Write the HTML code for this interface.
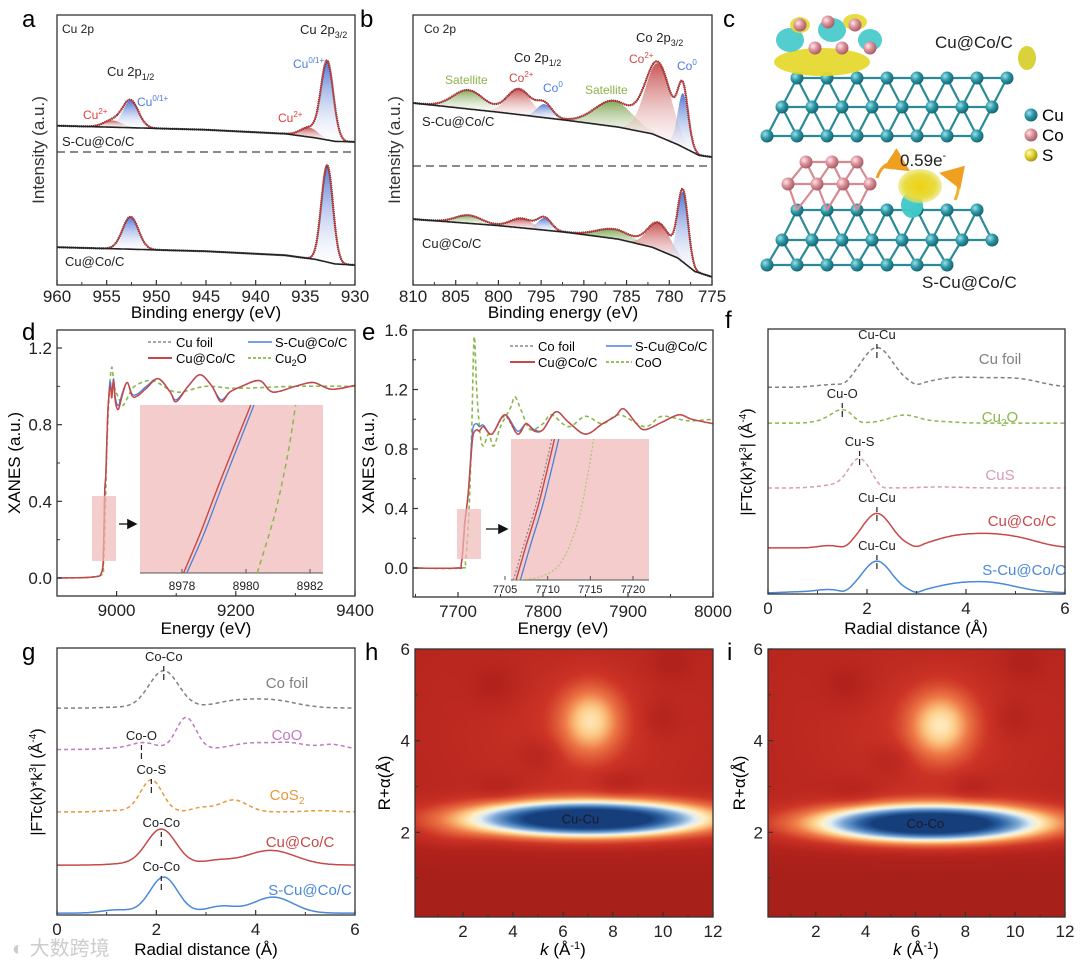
<!DOCTYPE html>
<html><head><meta charset="utf-8"><style>
html,body{margin:0;padding:0;background:#fff;}
#wrap{position:relative;width:1080px;height:967px;overflow:hidden;font-family:"Liberation Sans","Noto Sans CJK SC",sans-serif;}
svg{position:absolute;left:0;top:0;}
canvas{position:absolute;}
text{font-family:"Liberation Sans","Noto Sans CJK SC",sans-serif;}
</style></head><body>
<div id="wrap">
<canvas id="hmH" width="298" height="268" style="left:415px;top:649px"></canvas>
<canvas id="hmI" width="297" height="268" style="left:768px;top:649px"></canvas>
<svg id="svg" width="1080" height="967" viewBox="0 0 1080 967">
<defs>
<linearGradient id="gBlue" x1="0" y1="0" x2="0" y2="1"><stop offset="0" stop-color="#3560cc"/><stop offset="1" stop-color="#ffffff" stop-opacity="0.3"/></linearGradient>
<linearGradient id="gRed" x1="0" y1="0" x2="0" y2="1"><stop offset="0" stop-color="#c03838"/><stop offset="1" stop-color="#ffffff" stop-opacity="0.3"/></linearGradient>
<linearGradient id="gGreen" x1="0" y1="0" x2="0" y2="1"><stop offset="0" stop-color="#6f9a3c"/><stop offset="1" stop-color="#ffffff" stop-opacity="0.3"/></linearGradient>
<radialGradient id="atomCu" cx="0.35" cy="0.35" r="0.7"><stop offset="0" stop-color="#9fe0e8"/><stop offset="0.5" stop-color="#2a97a6"/><stop offset="1" stop-color="#17606c"/></radialGradient>
<radialGradient id="atomCo" cx="0.35" cy="0.35" r="0.7"><stop offset="0" stop-color="#ffe6ea"/><stop offset="0.5" stop-color="#d98c96"/><stop offset="1" stop-color="#a05a62"/></radialGradient>
<radialGradient id="atomS" cx="0.35" cy="0.35" r="0.7"><stop offset="0" stop-color="#fffbb0"/><stop offset="0.5" stop-color="#e0d030"/><stop offset="1" stop-color="#a09010"/></radialGradient>
<radialGradient id="blobY" cx="0.5" cy="0.5" r="0.5"><stop offset="0" stop-color="#f0d010"/><stop offset="0.7" stop-color="#e8dc40"/><stop offset="1" stop-color="#e8e060" stop-opacity="0.6"/></radialGradient>
<marker id="arrowHead" markerWidth="8" markerHeight="8" refX="6" refY="4" orient="auto"><path d="M0,0 L8,4 L0,8 z" fill="#111"/></marker>
<marker id="arrowOr" markerWidth="8" markerHeight="8" refX="6" refY="4" orient="auto"><path d="M0,0 L8,4 L0,8 z" fill="#f0a020"/></marker>
</defs>

<!-- panel letters -->
<text x="22" y="27" font-size="24">a</text>
<text x="360" y="27" font-size="24">b</text>
<text x="723" y="27" font-size="24">c</text>
<text x="22" y="340" font-size="24">d</text>
<text x="362" y="340" font-size="24">e</text>
<text x="725" y="328" font-size="24">f</text>
<text x="22" y="660" font-size="24">g</text>
<text x="365" y="660" font-size="24">h</text>
<text x="727" y="660" font-size="24">i</text>

<!-- axis titles -->
<text x="206" y="318" font-size="17" text-anchor="middle">Binding energy (eV)</text>
<text x="563" y="318" font-size="17" text-anchor="middle">Binding energy (eV)</text>
<text x="206" y="634" font-size="17" text-anchor="middle">Energy (eV)</text>
<text x="563" y="634" font-size="17" text-anchor="middle">Energy (eV)</text>
<text x="916" y="634" font-size="17" text-anchor="middle">Radial distance (Å)</text>
<text x="206" y="955" font-size="17" text-anchor="middle">Radial distance (Å)</text>
<text x="563" y="955" font-size="17" text-anchor="middle"><tspan font-style="italic">k</tspan> (Å<tspan dy="-6" font-size="11">-1</tspan><tspan dy="6">)</tspan></text>
<text x="916" y="955" font-size="17" text-anchor="middle"><tspan font-style="italic">k</tspan> (Å<tspan dy="-6" font-size="11">-1</tspan><tspan dy="6">)</tspan></text>

<text transform="translate(44,150) rotate(-90)" font-size="17" text-anchor="middle" fill="#333">Intensity (a.u.)</text>
<text transform="translate(400,150) rotate(-90)" font-size="17" text-anchor="middle" fill="#333">Intensity (a.u.)</text>
<text transform="translate(20,463) rotate(-90)" font-size="17" text-anchor="middle">XANES (a.u.)</text>
<text transform="translate(374,463) rotate(-90)" font-size="17" text-anchor="middle">XANES (a.u.)</text>
<text transform="translate(752,462) rotate(-90)" font-size="16" text-anchor="middle">|FTc(k)*k<tspan dy="-6" font-size="10">3</tspan><tspan dy="6">| (Å</tspan><tspan dy="-6" font-size="10">-4</tspan><tspan dy="6">)</tspan></text>
<text transform="translate(42,782) rotate(-90)" font-size="16" text-anchor="middle">|FTc(k)*k<tspan dy="-6" font-size="10">3</tspan><tspan dy="6">| (Å</tspan><tspan dy="-6" font-size="10">-4</tspan><tspan dy="6">)</tspan></text>
<text transform="translate(390,783) rotate(-90)" font-size="17" text-anchor="middle">R+α(Å)</text>
<text transform="translate(745,783) rotate(-90)" font-size="17" text-anchor="middle">R+α(Å)</text>

<!-- panel a annotations -->
<g font-size="12">
<text x="62" y="33" fill="#222">Cu 2p</text>
<text x="107" y="76" font-size="13" fill="#222">Cu 2p<tspan dy="4" font-size="9">1/2</tspan></text>
<text x="300" y="34" font-size="13" fill="#222">Cu 2p<tspan dy="4" font-size="9">3/2</tspan></text>
<text x="83" y="119" fill="#e04040">Cu<tspan dy="-5" font-size="8">2+</tspan></text>
<text x="137" y="106" fill="#4a7ae0">Cu<tspan dy="-5" font-size="8">0/1+</tspan></text>
<text x="278" y="122" fill="#e04040">Cu<tspan dy="-5" font-size="8">2+</tspan></text>
<text x="293" y="68" fill="#4a7ae0">Cu<tspan dy="-5" font-size="8">0/1+</tspan></text>
<text x="62" y="146" font-size="13" fill="#222">S-Cu@Co/C</text>
<text x="65" y="266" font-size="13" fill="#222">Cu@Co/C</text>
</g>
<!-- panel b annotations -->
<g font-size="12">
<text x="424" y="33" fill="#222">Co 2p</text>
<text x="514" y="62" font-size="13" fill="#222">Co 2p<tspan dy="4" font-size="9">1/2</tspan></text>
<text x="636" y="42" font-size="13" fill="#222">Co 2p<tspan dy="4" font-size="9">3/2</tspan></text>
<text x="445" y="84" fill="#8db34a">Satellite</text>
<text x="509" y="82" fill="#d04848">Co<tspan dy="-5" font-size="8">2+</tspan></text>
<text x="543" y="92" fill="#4a7ae0">Co<tspan dy="-5" font-size="8">0</tspan></text>
<text x="585" y="94" fill="#8db34a">Satellite</text>
<text x="629" y="63" fill="#d04848">Co<tspan dy="-5" font-size="8">2+</tspan></text>
<text x="677" y="70" fill="#4a7ae0">Co<tspan dy="-5" font-size="8">0</tspan></text>
<text x="422" y="126" font-size="13" fill="#222">S-Cu@Co/C</text>
<text x="422" y="248" font-size="13" fill="#222">Cu@Co/C</text>
</g>

<!-- panel c (structure) -->
<g id="panelC"></g>
<g>
<text x="935" y="48" font-size="17" fill="#222">Cu@Co/C</text>
<text x="900" y="166" font-size="17" fill="#222">0.59e<tspan dy="-7" font-size="11">-</tspan></text>
<text x="922" y="288" font-size="17" fill="#222">S-Cu@Co/C</text>
<circle cx="1031" cy="115" r="6.5" fill="url(#atomCu)"/>
<circle cx="1031" cy="135" r="6.5" fill="url(#atomCo)"/>
<circle cx="1031" cy="155" r="6.5" fill="url(#atomS)"/>
<text x="1042" y="121" font-size="17">Cu</text>
<text x="1042" y="141" font-size="17">Co</text>
<text x="1042" y="161" font-size="17">S</text>
</g>

<!-- legends d and e -->
<g font-size="13">
<line x1="148" y1="342" x2="172" y2="342" stroke="#888" stroke-dasharray="3,2" stroke-width="1.5"/>
<text x="176" y="347">Cu foil</text>
<line x1="248" y1="342" x2="272" y2="342" stroke="#4a80d8" stroke-width="1.5"/>
<text x="275" y="347">S-Cu@Co/C</text>
<line x1="148" y1="358" x2="172" y2="358" stroke="#c84848" stroke-width="2"/>
<text x="176" y="363">Cu@Co/C</text>
<line x1="248" y1="358" x2="272" y2="358" stroke="#8ab84a" stroke-dasharray="3,2" stroke-width="1.8"/>
<text x="275" y="363">Cu<tspan dy="3" font-size="9">2</tspan><tspan dy="-3">O</tspan></text>
</g>
<g font-size="13">
<line x1="510" y1="346" x2="535" y2="346" stroke="#888" stroke-dasharray="3,2" stroke-width="1.5"/>
<text x="538" y="351">Co foil</text>
<line x1="606" y1="346" x2="632" y2="346" stroke="#4a80d8" stroke-width="1.5"/>
<text x="635" y="351">S-Cu@Co/C</text>
<line x1="510" y1="362" x2="535" y2="362" stroke="#c84848" stroke-width="2"/>
<text x="538" y="367">Cu@Co/C</text>
<line x1="606" y1="362" x2="632" y2="362" stroke="#8ab84a" stroke-dasharray="3,2" stroke-width="1.8"/>
<text x="635" y="367">CoO</text>
</g>

<text x="12" y="955" font-size="20" fill="#ccc">◐ 大数跨境</text>
</svg>
</div>
<script>
// ---------- DATA ----------
// panel a (Cu 2p XPS)
const aTicks=[960,955,950,945,940,935,930];
const aTopBase=[[960,59],[945,57.5],[937,56],[934,54.5],[932,53.2],[930,53]];
const aTopPeakCenters=[952.6,954.4,932.8,934.6];
const aTopPeakHeights=[10,2.5,29,3.5];
const aTopPeakWidths=[0.8,0.9,0.62,0.9];
const aTopPeakTypes=['blue','red','blue','red'];
const aBotBase=[[960,14],[945,12.5],[937,11],[934,9.5],[932,7.8],[930,7.4]];
const aBotPeakCenters=[952.6,932.8];
const aBotPeakHeights=[12,36];
const aBotPeakWidths=[0.8,0.58];
const aBotPeakTypes=['blue','blue'];
// panel b (Co 2p XPS)
const bTicks=[810,805,800,795,790,785,780,775];
const bTopBase=[[810,67.4],[800,64],[792,61],[786,58.5],[782,56],[779,52],[776.5,48],[775,47.4]];
const bTopPeakCenters=[803.5,797.6,794.6,786.5,781.3,778.4];
const bTopPeakHeights=[7,9.5,5,9.5,27,20];
const bTopPeakWidths=[1.8,1.4,0.9,2.2,1.5,0.6];
const bTopPeakTypes=['green','red','blue','green','red','blue'];
const bBotBase=[[810,24.4],[800,22],[792,19.5],[786,17],[782,14],[779,10],[777,5],[775,3]];
const bBotPeakCenters=[803.5,797.3,794.6,786.5,781.2,778.4];
const bBotPeakHeights=[3,3.5,4.5,3.5,10,26];
const bBotPeakWidths=[1.5,1.3,0.8,2,1.3,0.6];
const bBotPeakTypes=['green','red','blue','green','red','blue'];
// panel d (Cu K-edge XANES)
const dXTicks=[9000,9200,9400];
const dYTicks=[0.0,0.4,0.8,1.2];
const dCuCoC=[[8900,0],[8960,0.005],[8975,0.03],[8978,0.15],[8980,0.45],[8982,0.55],[8985,0.85],[8988,0.98],[8990,1.0],[8992,0.94],[8995,1.03],[8998,0.92],[9003,0.88],[9010,0.96],[9018,1.02],[9026,0.95],[9035,0.95],[9050,0.99],[9070,1.04],[9090,0.97],[9100,0.92],[9120,1.0],[9140,1.06],[9160,1.0],[9175,0.92],[9190,0.97],[9210,1.0],[9240,1.03],[9262,0.97],[9300,1.0],[9330,1.02],[9360,0.985],[9400,1.005]];
const dSCuCoC=[[8900,0],[8960,0.005],[8975,0.03],[8978,0.14],[8980,0.43],[8982,0.55],[8985,0.85],[8988,1.0],[8990,1.02],[8992,0.96],[8995,1.04],[8998,0.94],[9003,0.9],[9010,0.97],[9018,1.02],[9026,0.96],[9035,0.96],[9050,1.0],[9070,1.04],[9090,0.97],[9100,0.93],[9120,1.0],[9140,1.06],[9160,1.0],[9175,0.93],[9190,0.97],[9210,1.0],[9240,1.03],[9262,0.97],[9300,1.0],[9330,1.02],[9360,0.985],[9400,1.005]];
const dCuFoil=[[8900,0],[8960,0.005],[8975,0.03],[8978,0.15],[8980,0.45],[8982,0.55],[8985,0.86],[8988,0.98],[8990,1.0],[8992,0.95],[8995,1.02],[8998,0.92],[9003,0.88],[9010,0.96],[9018,1.02],[9026,0.95],[9035,0.95],[9050,0.99],[9070,1.04],[9090,0.97],[9100,0.92],[9120,1.0],[9140,1.06],[9160,1.0],[9175,0.92],[9190,0.97],[9210,1.0],[9240,1.03],[9262,0.97],[9300,1.0],[9330,1.02],[9360,0.985],[9400,1.005]];
const dCu2O=[[8900,0],[8970,0.01],[8978,0.08],[8981,0.35],[8984,0.72],[8988,0.98],[8992,1.1],[8996,1.0],[9002,0.95],[9010,0.9],[9020,0.95],[9030,1.0],[9060,1.03],[9100,0.97],[9150,1.0],[9200,0.99],[9300,1.0],[9400,1.0]];
const dInsetTicks=[8978,8980,8982];
const dInsetCu=[[8978.05,0],[8978.6,0.25],[8979.2,0.55],[8980.15,1.0]];
const dInsetSCu=[[8978.15,0],[8978.7,0.24],[8979.3,0.54],[8980.25,1.0]];
const dInsetCu2O=[[8980.35,0],[8980.9,0.35],[8981.3,0.7],[8981.55,1.0]];
// panel e (Co K-edge XANES)
const eXTicks=[7700,7800,7900,8000];
const eYTicks=[0.0,0.4,0.8,1.2,1.6];
const eCuCoC=[[7647,0],[7698,0.0],[7704,0.03],[7708,0.3],[7712,0.5],[7716,0.8],[7718,0.9],[7722,0.93],[7725,0.92],[7730,0.95],[7740,0.9],[7755,1.03],[7770,0.9],[7780,0.97],[7790,0.92],[7800,0.93],[7815,1.05],[7830,0.98],[7850,0.9],[7870,0.97],[7885,1.02],[7895,1.07],[7910,0.97],[7920,0.93],[7940,0.98],[7960,1.03],[7975,1.0],[8000,0.97]];
const eSCuCoC=[[7647,0],[7698,0.0],[7704,0.03],[7708,0.3],[7712,0.5],[7716,0.85],[7718,0.95],[7722,0.97],[7725,0.95],[7730,0.96],[7740,0.9],[7755,1.03],[7770,0.92],[7780,0.97],[7790,0.93],[7800,0.93],[7815,1.05],[7830,0.98],[7850,0.9],[7870,0.97],[7885,1.02],[7895,1.07],[7910,0.97],[7920,0.93],[7940,0.98],[7960,1.03],[7975,1.0],[8000,0.97]];
const eCoFoil=[[7647,0],[7698,0.0],[7704,0.03],[7708,0.32],[7712,0.5],[7716,0.8],[7718,0.9],[7722,0.93],[7725,0.92],[7730,0.95],[7740,0.9],[7755,1.02],[7770,0.9],[7780,0.97],[7790,0.92],[7800,0.93],[7815,1.05],[7830,0.98],[7850,0.9],[7870,0.97],[7885,1.02],[7895,1.07],[7910,0.97],[7920,0.93],[7940,0.98],[7960,1.03],[7975,1.0],[8000,0.97]];
const eCoO=[[7647,0],[7704,0.0],[7709,0.05],[7713,0.4],[7716,0.9],[7719,1.55],[7722,1.2],[7726,0.9],[7730,0.82],[7736,0.9],[7742,0.82],[7750,0.95],[7762,1.08],[7767,1.15],[7775,1.05],[7785,0.93],[7800,0.97],[7810,1.03],[7830,0.95],[7850,1.02],[7870,0.97],[7890,1.03],[7920,0.95],[7940,1.02],[7970,0.99],[8000,1.0]];
const eInsetTicks=[7705,7710,7715,7720];
const eInsetCu=[[7706.3,0],[7707.5,0.25],[7709,0.55],[7710.8,1.0]];
const eInsetSCu=[[7706.8,0],[7708,0.25],[7709.5,0.55],[7711.3,1.0]];
const eInsetCoFoil=[[7706.0,0],[7707.2,0.25],[7708.7,0.55],[7710.5,1.0]];
const eInsetCoO=[[7706,0],[7709,0.02],[7711.5,0.12],[7713.5,0.4],[7714.7,0.75],[7715.4,1.0]];
// panel f (Cu EXAFS FT)
const fTicks=[0,2,4,6];
const fNames=['Cu foil','Cu2O','CuS','Cu@Co/C','S-Cu@Co/C'];
const fBaselines=[78,64.5,40,17.4,0.4];
const fPeaks=[
 [[2.2,15,0.33],[1.2,0.8,0.3],[3.6,2.5,0.45],[4.5,3,0.6],[5.2,1.5,0.4]],
 [[1.5,5,0.22],[2.75,3,0.3],[1.1,0.6,0.2],[3.5,0.5,0.3]],
 [[1.85,11,0.22],[1.3,1,0.3],[3.5,0.4,0.4]],
 [[2.2,13,0.3],[1.2,0.8,0.2],[3.6,2,0.4],[4.4,5,0.6],[5.2,1.5,0.4]],
 [[2.2,12,0.3],[1.2,1.2,0.25],[3.6,1.5,0.4],[4.4,4,0.6],[0.6,0.4,0.3]]];
const fDips=[[1.55,3.0],[1.85],[2.3],[1.55,3.0],[1.55,3.0]];
// panel g (Co EXAFS FT)
const gTicks=[0,2,4,6];
const gNames=['Co foil','CoO','CoS2','Cu@Co/C','S-Cu@Co/C'];
const gBaselines=[77.5,62,38.6,18.7,0.7];
const gPeaks=[
 [[2.15,14,0.3],[3.5,2,0.4],[4.3,3,0.5],[1.2,0.3,0.3]],
 [[2.6,12,0.2],[1.75,2.5,0.25],[3.9,2.3,0.4],[4.7,2.3,0.35],[5.55,1.8,0.25],[1.2,0.5,0.3]],
 [[1.9,12,0.22],[2.9,1.5,0.2],[3.55,4.5,0.28],[5.3,0.5,0.3],[1.2,0.5,0.3]],
 [[2.1,13.5,0.3],[3.2,1.5,0.3],[4.3,5.5,0.5],[1.3,0.4,0.3]],
 [[2.15,13.5,0.28],[3.3,2.5,0.3],[4.35,6,0.4],[1.2,1.2,0.3]]];
// panels h, i (wavelet transform)
const hmKTicks=[2,4,6,8,10,12];
const hmRTicks=[2,4,6];
const hCenterK=[7.0,7.1,6.5,3.3,5.0,8.2,9.9,3.5,10.3,1.5];
const hCenterR=[2.3,4.45,4.2,5.2,3.7,3.1,4.5,3.0,5.7,1.9];
const hAmp=[1.0,0.3,0.08,-0.06,-0.06,-0.06,-0.06,-0.05,-0.05,0.04];
const hWidthK=[3.4,0.9,3.5,0.7,0.6,0.6,0.5,0.7,0.6,1.0];
const hWidthR=[0.27,0.55,1.3,0.35,0.25,0.2,0.3,0.2,0.3,0.2];
const iCenterK=[6.6,7.0,6.5,3.3,5.0,8.2,9.9,3.5,10.3];
const iCenterR=[2.2,4.35,4.2,5.2,3.6,3.0,4.5,2.9,5.7];
const iAmp=[1.0,0.31,0.08,-0.06,-0.06,-0.06,-0.06,-0.05,-0.05];
const iWidthK=[3.2,0.95,3.5,0.7,0.6,0.6,0.5,0.7,0.6];
const iWidthR=[0.28,0.55,1.3,0.35,0.25,0.2,0.3,0.2,0.3];

// ---------- HELPERS ----------
const NS='http://www.w3.org/2000/svg';
const svg=document.getElementById('svg');
function mk(tag,attrs,parent){const e=document.createElementNS(NS,tag);for(const k in attrs)e.setAttribute(k,attrs[k]);(parent||svg).appendChild(e);return e;}
function lin(d0,d1,p0,p1){return v=>p0+(v-d0)*(p1-p0)/(d1-d0);}
function interp(pts,x){
  for(let i=0;i<pts.length-1;i++){const a=pts[i],b=pts[i+1];
    if((x-a[0])*(x-b[0])<=0){const t=(x-a[0])/(b[0]-a[0]);return a[1]+t*(b[1]-a[1]);}}
  return pts[pts.length-1][1];}
function smoothPath(P){
  if(P.length<2)return'';let d='M'+P[0][0].toFixed(1)+','+P[0][1].toFixed(1);
  for(let i=0;i<P.length-1;i++){const p0=P[Math.max(0,i-1)],p1=P[i],p2=P[i+1],p3=P[Math.min(P.length-1,i+2)];
    const c1=[p1[0]+(p2[0]-p0[0])/6,p1[1]+(p2[1]-p0[1])/6],c2=[p2[0]-(p3[0]-p1[0])/6,p2[1]-(p3[1]-p1[1])/6];
    d+='C'+c1[0].toFixed(1)+','+c1[1].toFixed(1)+' '+c2[0].toFixed(1)+','+c2[1].toFixed(1)+' '+p2[0].toFixed(1)+','+p2[1].toFixed(1);}
  return d;}
function polyPath(P){return 'M'+P.map(p=>p[0].toFixed(1)+','+p[1].toFixed(1)).join('L');}
function gauss(x,c,h,w){return h*Math.exp(-(x-c)*(x-c)/(2*w*w));}
function frame(box,name){const r=mk('rect',{x:box.l,y:box.t,width:box.r-box.l,height:box.b-box.t,fill:'none',stroke:'#333','stroke-width':1.3});
  
  }
function xTicks(box,vals,sx,name,minor,off){
  off=off||20;
  const g=mk('g',{});
  
  
  vals.forEach(v=>{const x=sx(v);mk('line',{x1:x,y1:box.b,x2:x,y2:box.b-5,stroke:'#333','stroke-width':1.2},g);
    const t=mk('text',{x:x,y:box.b+off,'font-size':17,'text-anchor':'middle',fill:'#222'},g);t.textContent=String(v);
    
    });
  if(minor)minor.forEach(v=>{const x=sx(v);mk('line',{x1:x,y1:box.b,x2:x,y2:box.b-3,stroke:'#333','stroke-width':1},g);});}
function yTicks(box,vals,sy,name,fmt,minor){
  const g=mk('g',{});
  
  
  vals.forEach(v=>{const y=sy(v);mk('line',{x1:box.l,y1:y,x2:box.l+5,y2:y,stroke:'#333','stroke-width':1.2},g);
    const t=mk('text',{x:box.l-5,y:y+6,'font-size':17,'text-anchor':'end',fill:'#222'},g);t.textContent=fmt(v);
    
    });
  if(minor)minor.forEach(v=>{const y=sy(v);mk('line',{x1:box.l,y1:y,x2:box.l+3,y2:y,stroke:'#333','stroke-width':1},g);});}

// ---------- XPS ----------
const fillFor={blue:'url(#gBlue)',red:'url(#gRed)',green:'url(#gGreen)'};
function xps(box,e0,e1,base,cs,hs,ws,types,name,step){
  const sx=lin(e0,e1,box.l,box.r),sy=lin(0,100,box.b,box.t);
  const g=mk('g',{});
  
  
  const Es=[];for(let E=e0;E>=e1-1e-9;E-=step)Es.push(E);
  cs.forEach((c,i)=>{const top=[],bot=[];
    Es.forEach(E=>{const v=gauss(E,c,hs[i],ws[i]);if(v>hs[i]*0.01){const b=interp(base,E);top.push([sx(E),sy(b+v)]);bot.push([sx(E),sy(b)]);}});
    const p=mk('path',{d:polyPath(top.concat(bot.reverse()))+'Z',fill:fillFor[types[i]],opacity:0.85},g);
    
    });
  const tot=Es.map(E=>{let v=interp(base,E);cs.forEach((c,i)=>v+=gauss(E,c,hs[i],ws[i]));return [sx(E),sy(v)];});
  const raw=mk('path',{d:polyPath(tot),fill:'none',stroke:'#333','stroke-width':2.2,'stroke-dasharray':'1.2,0.8'},g);
  
  
  const fit=mk('path',{d:polyPath(tot),fill:'none',stroke:'#e03030','stroke-width':1.1},g);
  
  
  const bl=mk('path',{d:polyPath(Es.map(E=>[sx(E),sy(interp(base,E))])),fill:'none',stroke:'#222','stroke-width':1.6},g);
  
  }

const boxA={l:57,t:15,r:355,b:285};
xps(boxA,960,930,aTopBase,aTopPeakCenters,aTopPeakHeights,aTopPeakWidths,aTopPeakTypes,'xps-a-s-cu',0.1);
xps(boxA,960,930,aBotBase,aBotPeakCenters,aBotPeakHeights,aBotPeakWidths,aBotPeakTypes,'xps-a-cu',0.1);
{const l=mk('line',{x1:57,y1:152,x2:355,y2:152,stroke:'#444','stroke-dasharray':'8,5','stroke-width':1.3});
 
 }
frame(boxA,'axes-frame-a');
xTicks(boxA,aTicks,lin(960,930,57,355),'x-ticks-a',[957.5,952.5,947.5,942.5,937.5,932.5],17);

const boxB={l:413,t:15,r:712,b:285};
xps(boxB,810,775,bTopBase,bTopPeakCenters,bTopPeakHeights,bTopPeakWidths,bTopPeakTypes,'xps-b-s-cu',0.1);
xps(boxB,810,775,bBotBase,bBotPeakCenters,bBotPeakHeights,bBotPeakWidths,bBotPeakTypes,'xps-b-cu',0.1);
{const l=mk('line',{x1:413,y1:166,x2:712,y2:166,stroke:'#444','stroke-dasharray':'8,5','stroke-width':1.3});
 
 }
frame(boxB,'axes-frame-b');
xTicks(boxB,bTicks,lin(810,775,413,712),'x-ticks-b',[807.5,802.5,797.5,792.5,787.5,782.5,777.5],17);

// ---------- XANES ----------
function line(P,sx,sy,color,dash,w,name,parent,smooth){
  const pts=P.map(p=>[sx(p[0]),sy(p[1])]);
  const a={d:smooth===false?polyPath(pts):smoothPath(pts),fill:'none',stroke:color,'stroke-width':w};
  if(dash)a['stroke-dasharray']=dash;
  const e=mk('path',a,parent);
  
  
  return e;}
// panel d
const boxD={l:57,t:330,r:355,b:596};
const dsx=lin(8900,9400,57,355),dsy=lin(0,1.2,578,348);
line(dCu2O,dsx,dsy,'#8ab84a','4,3',1.6,'curve-d-cu2o');
line(dCuFoil,dsx,dsy,'#888','3,2',1.3,'curve-d-cu-foil');
line(dSCuCoC,dsx,dsy,'#4a80d8',null,1.3,'curve-d-s-cu');
line(dCuCoC,dsx,dsy,'#c84848',null,1.5,'curve-d-cu');
{const r=mk('rect',{x:92,y:496,width:24,height:65,fill:'#f0b8b8',opacity:0.7});
 
 
 const r2=mk('rect',{x:140,y:405,width:183,height:168,fill:'#f5cccc'});
 
 
 const a=mk('line',{x1:119,y1:524,x2:135,y2:524,stroke:'#111','stroke-width':1.3,'marker-end':'url(#arrowHead)'});
 
 }
{const isx=lin(8978,8982,182,310),isy=lin(0,1,573,405);
 const ax=mk('line',{x1:140,y1:573,x2:323,y2:573,stroke:'#555','stroke-width':1});
 
 
 dInsetTicks.forEach(v=>{mk('line',{x1:isx(v),y1:573,x2:isx(v),y2:569,stroke:'#555'});
   const t=mk('text',{x:isx(v),y:590,'font-size':12,'text-anchor':'middle',fill:'#222'});t.textContent=v;
   
   });
 line(dInsetCu2O,isx,isy,'#8ab84a','5,4',1.5,'inset-d-cu2o');
 line(dInsetSCu,isx,isy,'#4a80d8',null,1.3,'inset-d-s-cu');
 line(dInsetCu,isx,isy,'#c84848',null,1.4,'inset-d-cu');}
frame(boxD,'axes-frame-d');
xTicks(boxD,dXTicks,dsx,'x-ticks-d',[8900,9100,9300]);
yTicks(boxD,dYTicks,dsy,'y-ticks-d',v=>v.toFixed(1),[0.2,0.6,1.0]);

// panel e
const boxE={l:413,t:330,r:713,b:597};
const esx=lin(7700,8000,458,713),esy=lin(0,1.6,568,330);
line(eCoO,esx,esy,'#8ab84a','4,3',1.6,'curve-e-coo');
line(eCoFoil,esx,esy,'#888','3,2',1.3,'curve-e-co-foil');
line(eSCuCoC,esx,esy,'#4a80d8',null,1.3,'curve-e-s-cu');
line(eCuCoC,esx,esy,'#c84848',null,1.5,'curve-e-cu');
{const r=mk('rect',{x:457,y:509,width:24,height:50,fill:'#f0b8b8',opacity:0.7});
 
 
 const r2=mk('rect',{x:511,y:439,width:138,height:141,fill:'#f5cccc'});
 
 
 const a=mk('line',{x1:486,y1:529,x2:506,y2:529,stroke:'#111','stroke-width':1.3,'marker-end':'url(#arrowHead)'});
 
 }
{const isx=lin(7705,7720,505,633),isy=lin(0,1,580,439);
 const ax=mk('line',{x1:511,y1:580,x2:649,y2:580,stroke:'#555','stroke-width':1});
 
 
 eInsetTicks.forEach(v=>{mk('line',{x1:isx(v),y1:580,x2:isx(v),y2:576,stroke:'#555'});
   const t=mk('text',{x:isx(v),y:593,'font-size':11,'text-anchor':'middle',fill:'#222'});t.textContent=v;
   
   });
 line(eInsetCoO,isx,isy,'#a8c870','2,2',1.2,'inset-e-coo');
 line(eInsetCoFoil,isx,isy,'#888','2,2',1.2,'inset-e-co-foil');
 line(eInsetSCu,isx,isy,'#4a80d8',null,1.3,'inset-e-s-cu');
 line(eInsetCu,isx,isy,'#c84848',null,1.4,'inset-e-cu');}
frame(boxE,'axes-frame-e');
xTicks(boxE,eXTicks,esx,'x-ticks-e',[7650,7750,7850,7950]);
yTicks(boxE,eYTicks,esy,'y-ticks-e',v=>v.toFixed(1),[0.2,0.6,1.0,1.4]);

// ---------- FT-EXAFS ----------
function ftPanel(box,names,bases,peaks,colors,dashes,labelPos,annos,name,dipsArr){
  const sx=lin(0,6,box.l,box.r),sy=lin(0,100,box.b,box.t);
  names.forEach((n,i)=>{const P=[];
    for(let r=0;r<=6.0001;r+=0.03){let v=bases[i];peaks[i].forEach(p=>v+=gauss(r,p[0],p[1],p[2]));
      if(dipsArr&&dipsArr[i])dipsArr[i].forEach(d=>v-=gauss(r,d,0.8,0.1));
      P.push([sx(r),sy(v)]);}
    const e=mk('path',{d:polyPath(P),fill:'none',stroke:colors[i],'stroke-width':1.5});
    if(dashes[i])e.setAttribute('stroke-dasharray',dashes[i]);
    
    
    const t=mk('text',{x:labelPos[i][0],y:labelPos[i][1],'font-size':15,fill:colors[i],'text-anchor':'middle'});
    
    
    if(n==='Cu2O'){const a=mk('tspan',{},t);a.textContent='Cu';const s=mk('tspan',{dy:4,'font-size':10},t);s.textContent='2';const o=mk('tspan',{dy:-4},t);o.textContent='O';}
    else if(n==='CoS2'){const a=mk('tspan',{},t);a.textContent='CoS';const s=mk('tspan',{dy:4,'font-size':10},t);s.textContent='2';}
    else t.textContent=n;});
  annos.forEach(a=>{const t=mk('text',{x:sx(a[1]),y:a[2],'font-size':13,'text-anchor':'middle',fill:'#222'});t.textContent=a[0];
    
    
    mk('line',{x1:sx(a[1]),y1:a[2]+5,x2:sx(a[1]),y2:a[2]+10,stroke:'#222','stroke-width':1.2});
    mk('line',{x1:sx(a[1]),y1:a[2]+13,x2:sx(a[1]),y2:a[2]+19,stroke:'#222','stroke-width':1.2});});
  frame(box,name+'-frame');
  xTicks(box,[0,2,4,6],sx,name+'-x-ticks',[1,3,5]);}

const boxF={l:768,t:329,r:1065,b:594};
ftPanel(boxF,fNames,fBaselines,fPeaks,['#808080','#8ab84a','#d89ab8','#c84848','#4a88d8'],['4,3','4,3','4,3',null,null],
  [[1000,364],[1000,422],[1000,480],[1022,526],[1024,575]],
  [['Cu-Cu',2.2,339],['Cu-O',1.5,398],['Cu-S',1.85,446],['Cu-Cu',2.2,502],['Cu-Cu',2.2,550]],'ft-f',fDips);
const boxG={l:57,t:648,r:355,b:915};
ftPanel(boxG,gNames,gBaselines,gPeaks,['#808080','#c07ac0','#e8983a','#c84848','#4a88d8'],['4,3','4,3','4,3',null,null],
  [[287,688],[287,740],[287,800],[300,847],[310,895]],
  [['Co-Co',2.15,661],['Co-O',1.7,740],['Co-S',1.9,774],['Co-Co',2.1,827],['Co-Co',2.1,871]],'ft-g',null);

// ---------- HEATMAPS ----------
const cmap=[[0,[140,26,22]],[0.2,[178,34,28]],[0.32,[205,52,38]],[0.45,[238,120,70]],[0.55,[252,200,130]],[0.62,[255,240,200]],[0.68,[225,238,245]],[0.78,[120,165,210]],[0.9,[45,100,165]],[1.0,[22,62,122]]];
function cm(v){v=Math.max(0,Math.min(1,v));for(let i=0;i<cmap.length-1;i++){const a=cmap[i],b=cmap[i+1];if(v<=b[0]){const t=(v-a[0])/(b[0]-a[0]);return a[1].map((c,j)=>Math.round(c+t*(b[1][j]-c)));}}return cmap[cmap.length-1][1];}
function heat(id,ck,cr,amp,wk,wr){
  const cv=document.getElementById(id),ctx=cv.getContext('2d'),W=cv.width,H=cv.height;
  const img=ctx.createImageData(W,H);
  for(let py=0;py<H;py++){const R=6-py*6/ (H+7);
    for(let px=0;px<W;px++){const k=0.1+px*11.9/W;
      let v=0.14+0.08/(1+Math.exp(-(R-1.6)*4));
      for(let b=0;b<ck.length;b++){const dk=(k-ck[b])/wk[b],dr=(R-cr[b])/wr[b];v+=amp[b]*Math.exp(-0.5*(dk*dk+dr*dr));}
      const c=cm(v),o=(py*W+px)*4;img.data[o]=c[0];img.data[o+1]=c[1];img.data[o+2]=c[2];img.data[o+3]=255;}}
  ctx.putImageData(img,0,0);}
heat('hmH',hCenterK,hCenterR,hAmp,hWidthK,hWidthR);
heat('hmI',iCenterK,iCenterR,iAmp,iWidthK,iWidthR);
function hmAxes(box,name,label,lk,lr){
  const sx=lin(0,12,box.l-2,box.r),sy=lin(0,6,box.b+7,box.t);
  frame(box,name+'-frame');
  xTicks(box,hmKTicks,sx,name+'-x-ticks',[1,3,5,7,9,11]);
  yTicks(box,hmRTicks,sy,name+'-y-ticks',v=>String(v),[1,3,5]);
  const t=mk('text',{x:sx(lk),y:sy(lr)+5,'font-size':13,'text-anchor':'middle',fill:'#1a1a2a'});t.textContent=label;
  
  }
hmAxes({l:415,t:649,r:713,b:917},'wt-h','Cu-Cu',6.7,2.3);
hmAxes({l:768,t:649,r:1065,b:917},'wt-i','Co-Co',6.4,2.2);

// ---------- PANEL C structure ----------
const C=document.getElementById('panelC');
function slab(rows,prefix){
  const bonds=mk('g',{stroke:'#2a8a98','stroke-width':2.2},C);
  
  
  const atoms=[];rows.forEach(r=>{for(let i=0;i<r[2];i++)atoms.push([r[0]+30*i,r[1]]);});
  for(let a=0;a<atoms.length;a++)for(let b=a+1;b<atoms.length;b++){const dx=atoms[a][0]-atoms[b][0],dy=atoms[a][1]-atoms[b][1];
    if(Math.hypot(dx,dy)<36)mk('line',{x1:atoms[a][0],y1:atoms[a][1],x2:atoms[b][0],y2:atoms[b][1]},bonds);}
  atoms.forEach(p=>{const c=mk('circle',{cx:p[0],cy:p[1],r:6.5,fill:'url(#atomCu)'},C);
    
    });}
function blob(cx,cy,rx,ry,fill,op,name){const e=mk('ellipse',{cx:cx,cy:cy,rx:rx,ry:ry,fill:fill,opacity:op},C);
  
  }
function coAtom(x,y,name){const c=mk('circle',{cx:x,cy:y,r:6.5,fill:'url(#atomCo)'},C);
  
  }
slab([[797,78,8],[782,107,8],[767,136,8]],'top-slab');
blob(822,62,48,14,'#e6d830',0.95,'charge-density-yellow-top');
blob(790,40,14,12,'#40c8c8',0.9,'charge-density-cyan-1');
blob(832,30,14,12,'#40c8c8',0.9,'charge-density-cyan-2');
blob(870,40,12,11,'#40c8c8',0.9,'charge-density-cyan-3');
blob(800,25,10,8,'#e6d830',0.9,'charge-density-yellow-2');
blob(855,22,12,8,'#e6d830',0.9,'charge-density-yellow-3');
[[815,48],[842,48],[870,48],[800,25],[828,22],[855,25]].forEach(p=>coAtom(p[0],p[1],'co-atom-top'));
blob(1027,58,9,12,'#d8d030',0.95,'charge-density-edge');
slab([[797,210,7],[782,240,8],[767,265,7]],'bottom-slab');
{const cb=mk('g',{stroke:'#d88a92','stroke-width':2.2},C);
 
 
 [[806,162,832,162],[832,162,857,162],[788,184,817,184],[817,184,843,184],[843,184,870,184],[806,162,788,184],[806,162,817,184],[832,162,817,184],[832,162,843,184],[857,162,843,184],[857,162,870,184],[788,184,797,210],[817,184,797,210],[817,184,827,210],[843,184,827,210],[843,184,857,210],[870,184,857,210]].forEach(l=>mk('line',{x1:l[0],y1:l[1],x2:l[2],y2:l[3]},cb));}
[[806,162],[832,162],[857,162],[788,184],[817,184],[843,184],[870,184]].forEach(p=>coAtom(p[0],p[1],'co-atom-bottom'));
blob(912,205,11,13,'#40c8c8',0.95,'charge-density-cyan-s');
blob(920,186,22,17,'url(#blobY)',1,'charge-density-yellow-s');
{const a1=mk('path',{d:'M877,178 Q885,155 905,168',fill:'none',stroke:'#f0a020','stroke-width':3,'marker-end':'url(#arrowOr)'},C);
 
 
 const a2=mk('path',{d:'M955,200 Q965,178 945,174',fill:'none',stroke:'#f0b030','stroke-width':3,'marker-end':'url(#arrowOr)'},C);
 
 }
</script>
</body></html>
